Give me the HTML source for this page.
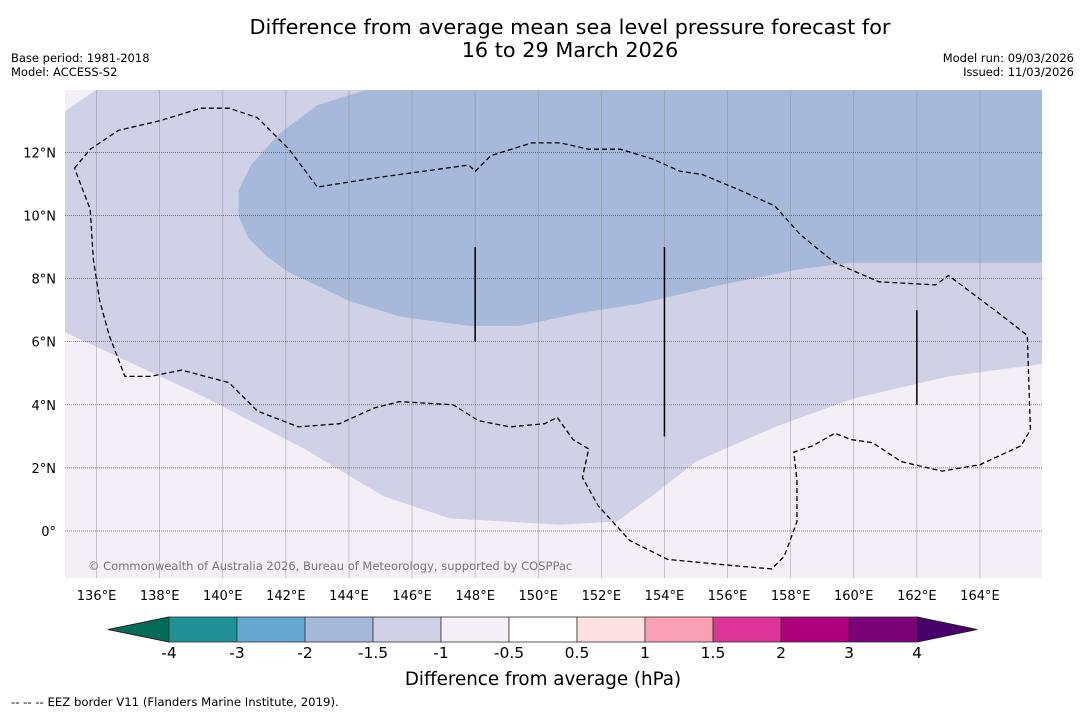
<!DOCTYPE html>
<html><head><meta charset="utf-8"><style>
body{margin:0;background:#fff;font-family:"DejaVu Sans","Liberation Sans",sans-serif;}
#wrap{position:relative;width:1085px;height:713px;overflow:hidden;}
</style></head><body>
<div id="wrap">
<svg id="svg" width="1085" height="713" font-family="DejaVu Sans, Liberation Sans, sans-serif">
<text x="570" y="34" font-size="20.8" text-anchor="middle">Difference from average mean sea level pressure forecast for</text>
<text x="570" y="57" font-size="20.8" text-anchor="middle">16 to 29 March 2026</text>
<text x="11" y="62" font-size="11.5">Base period: 1981-2018</text>
<text x="11" y="76" font-size="11.5">Model: ACCESS-S2</text>
<text x="1074" y="62" font-size="11.5" text-anchor="end">Model run: 09/03/2026</text>
<text x="1074" y="76" font-size="11.5" text-anchor="end">Issued: 11/03/2026</text>
<defs><clipPath id="mc"><rect x="65" y="90" width="977" height="488"/></clipPath></defs>
<g id="map" clip-path="url(#mc)"></g>
<g id="axes"></g>
<g id="cbar"></g>
<text x="543" y="685" font-size="18.3" text-anchor="middle">Difference from average (hPa)</text>
<text x="11" y="706" font-size="11.7">--  --  -- EEZ border V11 (Flanders Marine Institute, 2019).</text>
</svg>
</div>
<script>
const lonTicks=[136,138,140,142,144,146,148,150,152,154,156,158,160,162,164];
const latTicks=[0,2,4,6,8,10,12];
const cbLevels=[-4,-3,-2,-1.5,-1,-0.5,0.5,1,1.5,2,3,4];
const cbColors=["#1f9196","#66a8d0","#a6b9da","#d0d0e6","#f4eef6","#ffffff","#fde0e0","#f9a0b5","#dd3497","#ae017e","#7a0177"];
const bandMid=[[135,13.3],[136,14],[166,14],[166,5.3],[163,4.9],[160,4.2],[157.5,3.3],[155,2.2],[153.6,1.1],[152.5,0.3],[150.7,0.2],[147.2,0.4],[145.1,1.1],[142.6,2.6],[139.3,4.3],[135,6.3]];
const bandLow=[[144.6,14],[143,13.5],[141.8,12.6],[140.9,11.6],[140.5,10.8],[140.5,10],[140.8,9.3],[141.4,8.7],[142.1,8.2],[144,7.3],[145.6,6.8],[147.8,6.5],[149.4,6.5],[151.3,6.9],[153.2,7.2],[155.8,7.8],[158.3,8.3],[159.9,8.5],[162.7,8.5],[166,8.5],[166,14]];
const eez=[[135.3,11.5],[135.8,12.1],[136.7,12.7],[138,13],[139.3,13.4],[140.2,13.4],[141.1,13.1],[142.1,12.1],[143,10.9],[144.9,11.2],[147.8,11.6],[148,11.4],[148.5,11.9],[149.8,12.3],[150.7,12.3],[151.6,12.1],[152.6,12.1],[153.6,11.8],[154.5,11.4],[155.2,11.3],[156.4,10.8],[157.5,10.3],[158.3,9.4],[159.4,8.5],[160.8,7.9],[162.6,7.8],[163,8.1],[164.6,6.9],[165.5,6.2],[165.6,3.2],[165.3,2.7],[164,2.1],[162.8,1.9],[161.5,2.2],[160.6,2.8],[159.9,2.9],[159.4,3.1],[158.7,2.7],[158.1,2.5],[158.2,1.6],[158.2,0.3],[157.8,-0.8],[157.4,-1.2],[156.2,-1.1],[154.1,-0.9],[152.9,-0.3],[151.9,0.8],[151.4,1.7],[151.6,2.6],[151.1,2.9],[150.6,3.6],[150.2,3.4],[149.1,3.3],[148.1,3.5],[147.3,4],[145.6,4.1],[144.8,3.9],[143.7,3.4],[142.4,3.3],[141.1,3.8],[140.3,4.6],[140.2,4.7],[138.7,5.1],[137.7,4.9],[136.9,4.9],[136.4,6.2],[136.1,7.3],[135.9,8.6],[135.8,10.2],[135.3,11.5]];
const vLines=[[148,9,6],[154,9,3],[162,7,4]];
const X=lon=>65+(lon-135)*31.55;
const Y=lat=>531-lat*31.55;
const NS="http://www.w3.org/2000/svg";
function mk(t,a,p){const e=document.createElementNS(NS,t);for(const k in a)e.setAttribute(k,a[k]);p.appendChild(e);return e;}
const map=document.getElementById('map'),axes=document.getElementById('axes'),cb=document.getElementById('cbar');
const bg=mk('rect',{x:65,y:90,width:977,height:488,fill:'#f4eef6'},map);


const pts=a=>a.map(p=>X(p[0]).toFixed(1)+','+Y(p[1]).toFixed(1)).join(' ');
const p1=mk('polygon',{points:pts(bandMid),fill:'#d0d0e6'},map);


const p2=mk('polygon',{points:pts(bandLow),fill:'#a6b9da'},map);


lonTicks.forEach(l=>{const g=mk('line',{x1:X(l),x2:X(l),y1:90,y2:578,stroke:'#888',"stroke-width":0.6,"stroke-opacity":0.7},map);


const t=mk('text',{x:X(l),y:600,"font-size":13,"text-anchor":"middle"},axes);t.textContent=l+'°E';

});
latTicks.forEach(l=>{const g=mk('line',{x1:65,x2:1042,y1:Y(l),y2:Y(l),stroke:'#555',"stroke-width":0.7,"stroke-dasharray":"1,1"},map);


const t=mk('text',{x:56,y:Y(l)+5,"font-size":13,"text-anchor":"end"},axes);t.textContent=l===0?'0°':l+'°N';

});
const ez=mk('polyline',{points:pts(eez),fill:'none',stroke:'#000',"stroke-width":1.3,"stroke-dasharray":"5,3"},map);


vLines.forEach(v=>{const l=mk('line',{x1:X(v[0]),x2:X(v[0]),y1:Y(v[1]),y2:Y(v[2]),stroke:'#000',"stroke-width":1.5},map);

});
const cp=mk('text',{x:88,y:570,"font-size":11.5,fill:'#777'},map);cp.textContent='© Commonwealth of Australia 2026, Bureau of Meteorology, supported by COSPPac';


const cx0=169,cw=68,cy0=617,ch=25;
const lt=mk('polygon',{points:`108,629.5 ${cx0},${cy0} ${cx0},${cy0+ch}`,fill:'#016c59',stroke:'#222'},cb);


const n=cbColors.length;
const rt=mk('polygon',{points:`${cx0+n*cw},${cy0} 977,629.5 ${cx0+n*cw},${cy0+ch}`,fill:'#49006a',stroke:'#222'},cb);


cbColors.forEach((c,i)=>{const r=mk('rect',{x:cx0+i*cw,y:cy0,width:cw,height:ch,fill:c,stroke:'#333',"stroke-width":0.8},cb);

});
cbLevels.forEach((v,i)=>{const t=mk('text',{x:cx0+i*cw,y:658,"font-size":15.5,"text-anchor":"middle"},cb);t.textContent=v;

});
</script>
</body></html>
